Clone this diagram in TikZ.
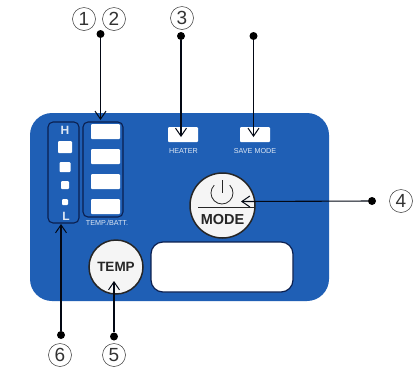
\documentclass[tikz,border=0pt]{standalone}
\usepackage{fontspec}
\setmainfont{Liberation Sans}
\usetikzlibrary{arrows.meta}
\definecolor{panelblue}{HTML}{1F5FB5}
\definecolor{darkline}{HTML}{0B1F4F}
\tikzset{
  x=1pt,y=-1pt,
  lamp/.style={fill=white,draw=none,rounded corners=1pt},
  bracketbox/.style={draw=darkline,line width=1.1pt,rounded corners=5pt},
  panellabel/.style={text=white!85!panelblue,font=\fontsize{7.2}{8}\selectfont,inner sep=0pt},
  bigbutton/.style={circle,draw=black!85,line width=1.5pt,fill=white!96!black,inner sep=0pt},
  numlabel/.style={circle,draw=black!80,line width=.5pt,minimum size=23pt,inner sep=0pt,font=\fontsize{19}{19}\selectfont,text=black!80},
  dotend/.style={circle,fill=black,minimum size=8pt,inner sep=0pt},
  leader/.style={draw=black!75!darkline,line width=1.1pt,-{Straight Barb[length=8pt,width=11pt,line width=1pt]}}
}
\begin{document}
\begin{tikzpicture}
\useasboundingbox (0,0) rectangle (415,368);
\fill[white] (0,0) rectangle (415,368);
\fill[panelblue,rounded corners=22pt] (30,113) rectangle (329,301);
% lamps
\foreach \n/\y in {a/124,b/149,c/174,d/199}
  \fill[lamp] (91,\y) rectangle (120,\y+15);
\fill[lamp] (58,141) rectangle (72,153);
\fill[lamp] (59.5,162) rectangle (70.5,172);
\fill[lamp] (61,181) rectangle (69,189);
\fill[lamp] (62,199) rectangle (68,205);
\node[text=white!85!panelblue,font=\bfseries\fontsize{12}{12}\selectfont,inner sep=0pt] (hlabel) at (65,130) {H};
\node[text=white!85!panelblue,font=\bfseries\fontsize{12}{12}\selectfont,inner sep=0pt] (llabel) at (66,216) {L};
\node[panellabel] (tempbatt) at (107,222.5) {TEMP./BATT.};
\draw[bracketbox] (48,122) rectangle (79,223);
\draw[bracketbox] (83,122) rectangle (123,217);
\coordinate (barsTop) at (100.5,120);
\coordinate (levelsBot) at (61,224);
% heater / save
\node[lamp,minimum width=30pt,minimum height=15pt,inner sep=0pt] (heater) at (183,134.5) {};
\node[lamp,minimum width=30pt,minimum height=15pt,inner sep=0pt] (save) at (255,134.5) {};
\node[panellabel] (heatertext) at (183.5,151) {HEATER};
\node[panellabel] (savetext) at (255,151) {SAVE MODE};
% display
\node[draw=darkline,line width=1.2pt,fill=white,rounded corners=12pt,minimum width=142pt,minimum height=50pt,inner sep=0pt] (display) at (222,267) {};
% mode button
\node[bigbutton,minimum size=65pt] (mode) at (222.5,205.5) {};
\draw[black!85,line width=.8pt] (198,207.5) -- (255,207.5);
\draw[black!85,line width=.8pt] (214.2,185.2) arc[start angle=135,end angle=405,radius=11pt];
\draw[black!85,line width=.8pt] (222,180) -- (222,193);
\node[font=\bfseries\fontsize{14.5}{15}\selectfont,text=black!85,inner sep=0pt] (modetext) at (222.5,219.5) {MODE};
% temp button
\node[bigbutton,minimum size=54pt] (temp) at (116,267) {};
\node[font=\bfseries\fontsize{13.5}{14}\selectfont,text=black!85,inner sep=0pt] (temptext) at (116,266.5) {TEMP};
% dots
\node[dotend] (d12) at (100.5,34) {};
\node[dotend] (d3) at (181,36) {};
\node[dotend] (dsave) at (253.5,36) {};
\node[dotend] (d4) at (372,201) {};
\node[dotend] (d5) at (114,336.5) {};
\node[dotend] (d6) at (61,335) {};
\coordinate (heaterTip) at (181,137);
\coordinate (saveTip) at (253.5,137);
\coordinate (modeTip) at (241,201.5);
\coordinate (tempTip) at (114,281);
\draw[leader] (d12) -- (barsTop);
\draw[leader] (d3) -- (heaterTip);
\draw[leader] (dsave) -- (saveTip);
\draw[leader] (d4) -- (modeTip);
\draw[leader] (d5) -- (tempTip);
\draw[leader] (d6) -- (levelsBot);
% numbers
\node[numlabel] (n1) at (84,19) {1};
\node[numlabel] (n2) at (114,19) {2};
\node[numlabel] (n3) at (182,18) {3};
\node[numlabel] (n4) at (401,201) {4};
\node[numlabel] (n5) at (114,355) {5};
\node[numlabel] (n6) at (60,355) {6};
\end{tikzpicture}
\end{document}
